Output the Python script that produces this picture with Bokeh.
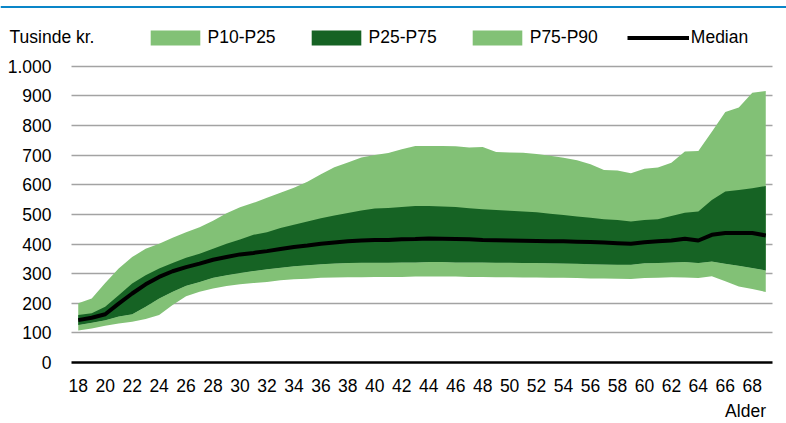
from bokeh.plotting import figure
from bokeh.models import (Range1d, FixedTicker, Legend, LegendItem, Label,
                          BoxAnnotation, ColumnDataSource, LinearAxis)
from bokeh.embed import file_html
from bokeh.resources import INLINE

# ---- data ----
ages = list(range(18, 70))
p10 = [108, 115, 124, 132, 138, 147, 160, 194, 224, 239,
       250, 258, 264, 268, 272, 278, 281, 283, 286, 287,
       288, 288, 289, 289, 289, 290, 290, 290, 290, 289,
       289, 288, 288, 287, 287, 286, 286, 285, 284, 284,
       283, 282, 285, 286, 288, 287, 285, 291, 274, 257,
       248, 238]
p25 = [127, 134, 143, 155, 163, 188, 216, 239, 259, 272,
       286, 295, 302, 309, 315, 320, 325, 328, 332, 334,
       336, 337, 337, 337, 338, 338, 339, 339, 338, 338,
       338, 337, 337, 336, 336, 335, 334, 333, 332, 331,
       330, 330, 335, 336, 338, 339, 336, 341, 333, 327,
       319, 311]
median = [143, 151, 163, 199, 233, 264, 289, 308, 322, 334,
          347, 356, 365, 370, 376, 383, 390, 395, 401, 405,
          409, 412, 414, 414, 416, 417, 419, 418, 417, 416,
          414, 413, 412, 411, 410, 409, 409, 408, 407, 405,
          403, 401, 406, 409, 412, 418, 412, 431, 437, 437,
          437, 429]
p75 = [160, 166, 188, 227, 267, 295, 317, 336, 354, 367,
       384, 401, 415, 431, 440, 454, 465, 476, 487, 496,
       505, 513, 520, 522, 525, 528, 528, 527, 525, 521,
       517, 515, 512, 510, 507, 502, 498, 493, 489, 484,
       481, 476, 481, 484, 495, 506, 510, 549, 577, 582,
       588, 596]
p90 = [200, 216, 268, 317, 356, 384, 401, 421, 440, 457,
       479, 504, 524, 539, 556, 573, 590, 610, 636, 659,
       675, 692, 701, 707, 720, 731, 731, 731, 730, 726,
       728, 711, 709, 708, 704, 698, 691, 683, 669, 650,
       648, 639, 654, 658, 674, 712, 714, 779, 846, 861,
       911, 917]

x_ticks = list(range(18, 69, 2))
y_ticks = list(range(0, 1001, 100))
y_tick_labels = ["0", "100", "200", "300", "400", "500", "600", "700", "800", "900", "1.000"]
series_labels = ["P10-P25", "P25-P75", "P75-P90", "Median"]
unit_label = "Tusinde kr."
x_title = "Alder"

# ---- layout / style ----
W, H = 786, 423
PLOT_L, PLOT_R, PLOT_B = 71, 772, 363      # pixel edges of the data area
PX_PER_UNIT = 0.297                          # 1000 units -> 297 px
x_lo, x_hi = ages[0] - 0.5, ages[-1] + 0.5
px_per_year = (PLOT_R - PLOT_L) / (x_hi - x_lo)
x_start = x_lo - PLOT_L / px_per_year
x_end = x_hi + (W - PLOT_R) / px_per_year
y_end = PLOT_B / PX_PER_UNIT

LIGHT = "#82C176"
DARK = "#166324"
FONT = "Liberation Sans"
FS = "17.5px"

src = ColumnDataSource(dict(age=ages, p10=p10, p25=p25, med=median, p75=p75, p90=p90))

p = figure(width=W, height=H, output_backend="svg", toolbar_location=None,
           title=None, x_range=Range1d(x_start, x_end), y_range=Range1d(0, y_end),
           min_border_left=0, min_border_right=0, min_border_top=0,
           min_border_bottom=H - PLOT_B)
p.outline_line_color = None
p.background_fill_color = "white"
p.border_fill_color = "white"

r_low = p.varea(x="age", y1="p10", y2="p25", source=src, fill_color=LIGHT)
r_high = p.varea(x="age", y1="p25", y2="p90", source=src, fill_color=LIGHT)
r_mid = p.varea(x="age", y1="p25", y2="p75", source=src, fill_color=DARK)
r_med = p.line(x="age", y="med", source=src, line_color="black", line_width=4)

# axes
p.xaxis.ticker = FixedTicker(ticks=x_ticks)
p.yaxis.ticker = FixedTicker(ticks=y_ticks)
p.yaxis.major_label_overrides = {t: l for t, l in zip(y_ticks, y_tick_labels)}
for ax in (p.xaxis, p.yaxis):
    ax.major_tick_line_color = None
    ax.minor_tick_line_color = None
    ax.major_tick_out = 0
    ax.major_tick_in = 0
    ax.minor_tick_out = 0
    ax.major_label_text_font = FONT
    ax.major_label_text_font_size = FS
    ax.major_label_text_color = "#000000"
p.yaxis.axis_line_color = None
p.yaxis.major_label_standoff = -51          # labels end 20px left of the data area
p.xaxis.axis_line_color = "black"
p.xaxis.axis_line_width = 2.5
p.xaxis.bounds = (x_lo, x_hi)
p.xaxis.major_label_standoff = 16

p.xgrid.grid_line_color = None
p.ygrid.grid_line_color = "#A3A3A3"
p.ygrid.grid_line_width = 1.5
p.ygrid.cross_bounds = (x_lo, x_hi)

# "Alder" as a one-label axis under the tick labels
alder_axis = LinearAxis(ticker=FixedTicker(ticks=[67.5]), major_label_overrides={67.5: x_title},
                        axis_line_color=None, major_tick_line_color=None,
                        minor_tick_line_color=None, major_tick_out=0, minor_tick_out=0,
                        major_label_standoff=6, major_label_text_font=FONT,
                        major_label_text_font_size=FS, major_label_text_color="#000000")
p.add_layout(alder_axis, "below")

legend = Legend(items=[LegendItem(label=series_labels[0], renderers=[r_low]),
                       LegendItem(label=series_labels[1], renderers=[r_mid]),
                       LegendItem(label=series_labels[2], renderers=[r_high]),
                       LegendItem(label=series_labels[3], renderers=[r_med])],
                orientation="horizontal", location=(143.5, 314.5),
                glyph_width=62, glyph_height=19, label_height=19,
                label_standoff=2, spacing=29, padding=0, margin=0,
                border_line_alpha=0, background_fill_alpha=0,
                label_text_font=FONT, label_text_font_size=FS,
                label_text_color="#000000")
p.add_layout(legend, "center")

p.add_layout(Label(x=9, y=PLOT_B - 37, x_units="screen", y_units="screen", text=unit_label,
                   text_font=FONT, text_font_size=FS, text_baseline="middle",
                   text_align="left", text_color="#000000"))

# thin blue rule across the top
p.add_layout(BoxAnnotation(top=PLOT_B - 6.5, bottom=PLOT_B - 8.5,
                           top_units="screen", bottom_units="screen",
                           fill_color="#0A86C8", fill_alpha=1, line_alpha=0))

open("out.html", "w").write(file_html(p, INLINE))
